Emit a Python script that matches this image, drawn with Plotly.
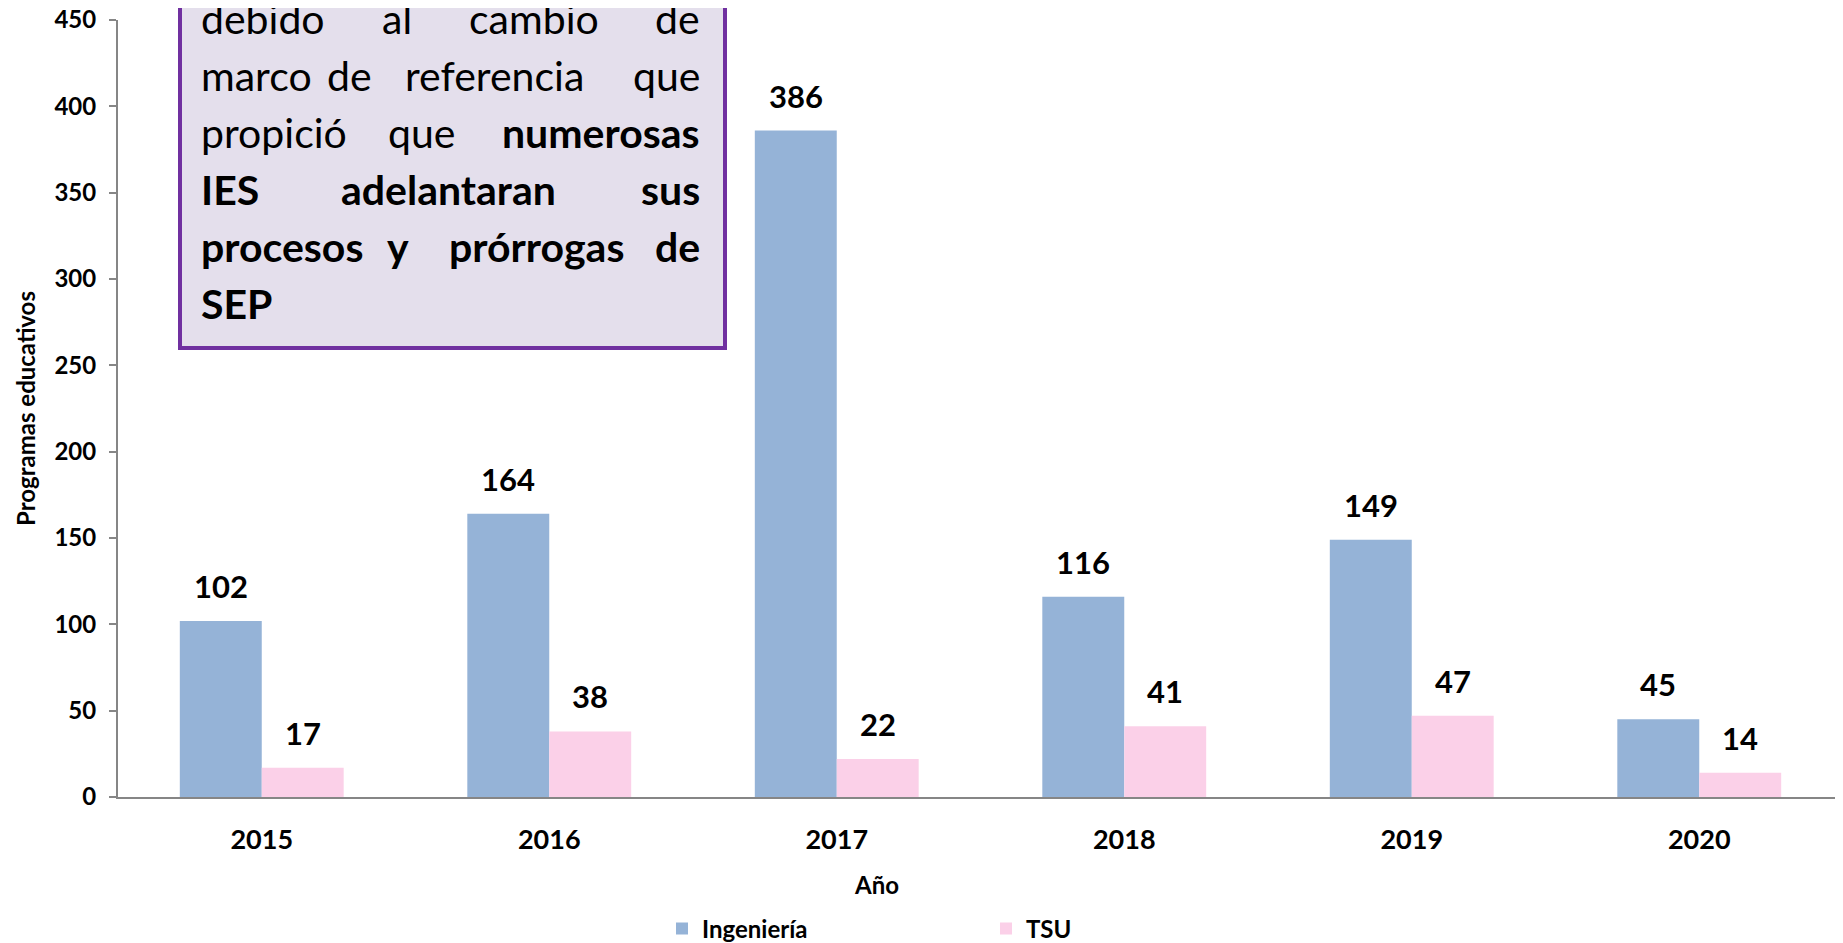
import plotly.graph_objects as go

# ---- data ----
years = ["2015", "2016", "2017", "2018", "2019", "2020"]
ingenieria = [102, 164, 386, 116, 149, 45]
tsu = [17, 38, 22, 41, 47, 14]
series_names = ["Ingeniería", "TSU"]
y_ticks = [0, 50, 100, 150, 200, 250, 300, 350, 400, 450]

# text box lines: list of (word, bold)
box_lines = [
    [("debido", False), ("al", False), ("cambio", False), ("de", False)],
    [("marco", False), ("de", False), ("referencia", False), ("que", False)],
    [("propició", False), ("que", False), ("numerosas", True)],
    [("IES", True), ("adelantaran", True), ("sus", True)],
    [("procesos", True), ("y", True), ("prórrogas", True), ("de", True)],
    [("SEP", True)],
]
# centre x (page pixels) of middle words, per line (justified layout)
mid_centers = [[397, 534], [349, 494], [421], [448], [398, 536], []]

# The page body has an 8px margin, so the figure starts at page (8, 8)
OFF = 8
W, H = 1843 - OFF, 943 - OFF
L, R, T, B = 118 - OFF, 0, 20 - OFF, H - (797 - OFF)
PW, PH = W - L - R, H - T - B

def px(xp):  # page x -> paper
    return (xp - OFF - L) / PW

def py(yp):  # page y -> paper
    return (H - B - (yp - OFF)) / PH

BLUE = "#95B3D7"
PINK = "#FBD0E8"
FONT = "Lato"

def bfont(size):
    return dict(family=FONT, size=size, color="black", weight="bold")

fig = go.Figure()
fig.add_trace(go.Bar(x=years, y=ingenieria, name=series_names[0],
                     marker=dict(color=BLUE, line=dict(width=0))))
fig.add_trace(go.Bar(x=years, y=tsu, name=series_names[1],
                     marker=dict(color=PINK, line=dict(width=0))))

annotations = []
# data labels
for vals, shift in ((ingenieria, -41), (tsu, 41)):
    for i, v in enumerate(vals):
        annotations.append(dict(x=i, y=v, xref="x", yref="y", text=str(v),
                                showarrow=False, xshift=shift, yshift=14,
                                yanchor="bottom", xanchor="center",
                                font=bfont(31)))

# justified text box
LEFT_X, RIGHT_X = 199, 702
FS = 41
baselines = [34 + 57.0 * i for i in range(6)]
for li, words in enumerate(box_lines):
    ymid = py(baselines[li] - 0.387 * FS)
    n = len(words)
    for wi, (w, bold) in enumerate(words):
        if wi == 0:
            x, xa = px(LEFT_X), "left"
        elif wi == n - 1:
            x, xa = px(RIGHT_X), "right"
        else:
            x, xa = px(mid_centers[li][wi - 1]), "center"
        f = dict(family=FONT, size=FS, color="black", weight="bold" if bold else "normal")
        annotations.append(dict(x=x, y=ymid, xref="paper", yref="paper", text=w,
                                showarrow=False, xanchor=xa, yanchor="middle", font=f))

# x axis title (offset from the plot centre as in the original)
annotations.append(dict(x=px(876), y=py(884), xref="paper", yref="paper", text="Año",
                        showarrow=False, xanchor="center", yanchor="middle", font=bfont(24)))

shapes = [dict(type="rect", xref="paper", yref="paper",
               x0=px(180), x1=px(725), y0=py(348), y1=py(-30),
               fillcolor="#E4DFEC", line=dict(color="#7030A0", width=4), layer="above")]

fig.update_layout(
    width=W, height=H,
    margin=dict(l=L, r=R, t=T, b=B, pad=0, autoexpand=False),
    paper_bgcolor="white", plot_bgcolor="white",
    barmode="group", bargap=0.43, bargroupgap=0,
    font=dict(family=FONT, color="black"),
    showlegend=True,
    legend=dict(orientation="h", x=px(662), xanchor="left", y=py(929), yanchor="middle",
                font=bfont(24),
                entrywidth=279, entrywidthmode="pixels", traceorder="normal",
                bgcolor="rgba(0,0,0,0)"),
    xaxis=dict(type="category", range=[-0.5, 5.5], showline=True, linecolor="#868686",
               linewidth=2, ticks="", showgrid=False, zeroline=False,
               tickfont=bfont(27), automargin=False,
               ticklabelstandoff=18),
    yaxis=dict(range=[0, 450], tickvals=y_ticks, showline=True, linecolor="#868686",
               linewidth=2, ticks="outside", ticklen=7, tickcolor="#868686", tickwidth=2,
               showgrid=False, zeroline=False, automargin=False,
               tickfont=bfont(24), ticklabeloverflow="allow",
               ticklabelstandoff=8,
               title=dict(text="Programas educativos", font=bfont(24), standoff=12)),
    annotations=annotations,
    shapes=shapes,
)
fig.write_html("out.html")
